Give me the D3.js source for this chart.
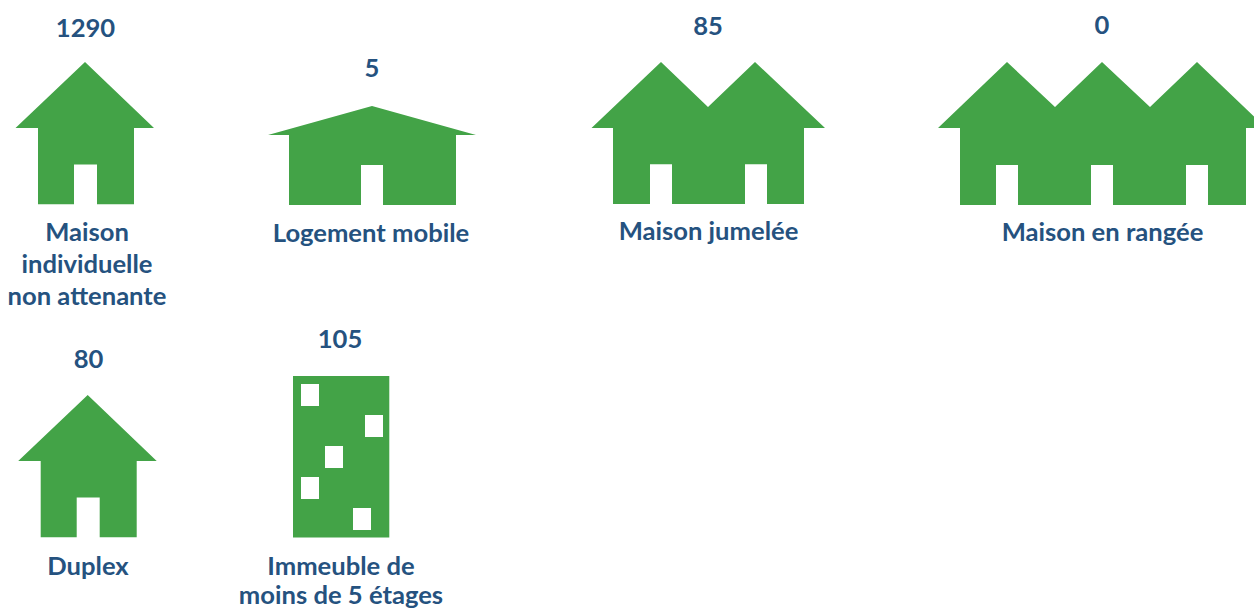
<!DOCTYPE html>
<html><head><meta charset="utf-8">
<script src="https://cdn.jsdelivr.net/npm/d3@7/dist/d3.min.js"></script>
<style>html,body{margin:0;padding:0;background:#fff;overflow:hidden}svg{display:block}
text{font-family:Lato,"Noto Sans",sans-serif;font-weight:700;font-size:25.6px;fill:#25527f;text-anchor:middle}</style>
</head><body><svg width="1254" height="610"></svg>
<script>
// Data
const categories = ["Maison individuelle non attenante","Logement mobile","Maison jumelée","Maison en rangée","Duplex","Immeuble de moins de 5 étages"];
const values = [1290,5,85,0,80,105];
const labelLines = [["Maison","individuelle","non attenante"],["Logement mobile"],["Maison jumelée"],["Maison en rangée"],["Duplex"],["Immeuble de","moins de 5 étages"]];
const shapeKinds = ["house","mobile","semi","row","house","tower"];

// Layout (separate from data)
const anchorX = [85,372,708,1102,87.7,341];
const anchorTop = [62,106,62,62,395,376];
const valueX = [85.5,372,708,1102,88.5,340];
const valueY = [37,77,35,34,368,348];
const labelX = [87,371,708.5,1102.5,88,341];
const labelY = [240.7,241.7,240,240.7,575,575];
const lineSteps = [32.3,0,0,0,0,29];
const green = "#43a347";

const svg = d3.select("svg");
const line = d3.line().curve(d3.curveLinearClosed);

// Outline templates in local units, mapped through per-item scales
const templates = {
  house: {outline:[[0,0],[69,66],[49,66],[49,142.3],[12,142.3],[12,102.6],[-11,102.6],[-11,142.3],[-47,142.3],[-47,66],[-69.5,66]],holes:[]},
  mobile:{outline:[[0,0],[104,29],[84,29],[84,99],[11,99],[11,59],[-11,59],[-11,99],[-83,99],[-83,29],[-104,29]],holes:[]},
  semi:  {outline:[[-47,0],[0,45],[47,0],[117,66],[96,66],[96,142],[59,142],[59,102.3],[37,102.3],[37,142],[-36,142],[-36,102.3],[-58,102.3],[-58,142],[-95,142],[-95,66],[-116.5,66]],holes:[]},
  row:   {outline:[[-95,0],[-47,45],[0,0],[48,45],[95,0],[164,66],[144,66],[144,143],[106,143],[106,103],[84,103],[84,143],[11,143],[11,103],[-11,103],[-11,143],[-84,143],[-84,103],[-106,103],[-106,143],[-142,143],[-142,66],[-164,66]],holes:[]},
  tower: {outline:[[-48,0],[48.3,0],[48.3,161.5],[-48,161.5]],
          holes:[[-40,8,18,22],[24,39,18,22],[-16,70,18,22],[-40,101,18,22],[12,132,18,22]]}
};

const g = svg.selectAll("g.item").data(categories).join("g").attr("class","item");
g.each(function(name,i){
  const el = d3.select(this);
  const x = d3.scaleLinear().domain([0,1]).range([anchorX[i],anchorX[i]+1]);
  const y = d3.scaleLinear().domain([0,1]).range([anchorTop[i],anchorTop[i]+1]);
  const t = templates[shapeKinds[i]];
  el.append("path").attr("d",line(t.outline.map(p=>[x(p[0]),y(p[1])]))).attr("fill",green);
  el.selectAll("rect").data(t.holes).join("rect")
    .attr("x",d=>x(d[0])).attr("y",d=>y(d[1])).attr("width",d=>d[2]).attr("height",d=>d[3]).attr("fill","#fff");
  el.append("text").attr("x",valueX[i]).attr("y",valueY[i]).text(values[i]);
  el.selectAll("text.lab").data(labelLines[i]).join("text").attr("class","lab")
    .attr("x",labelX[i]).attr("y",(d,k)=>labelY[i]+k*lineSteps[i]).text(d=>d);
});
</script></body></html>
